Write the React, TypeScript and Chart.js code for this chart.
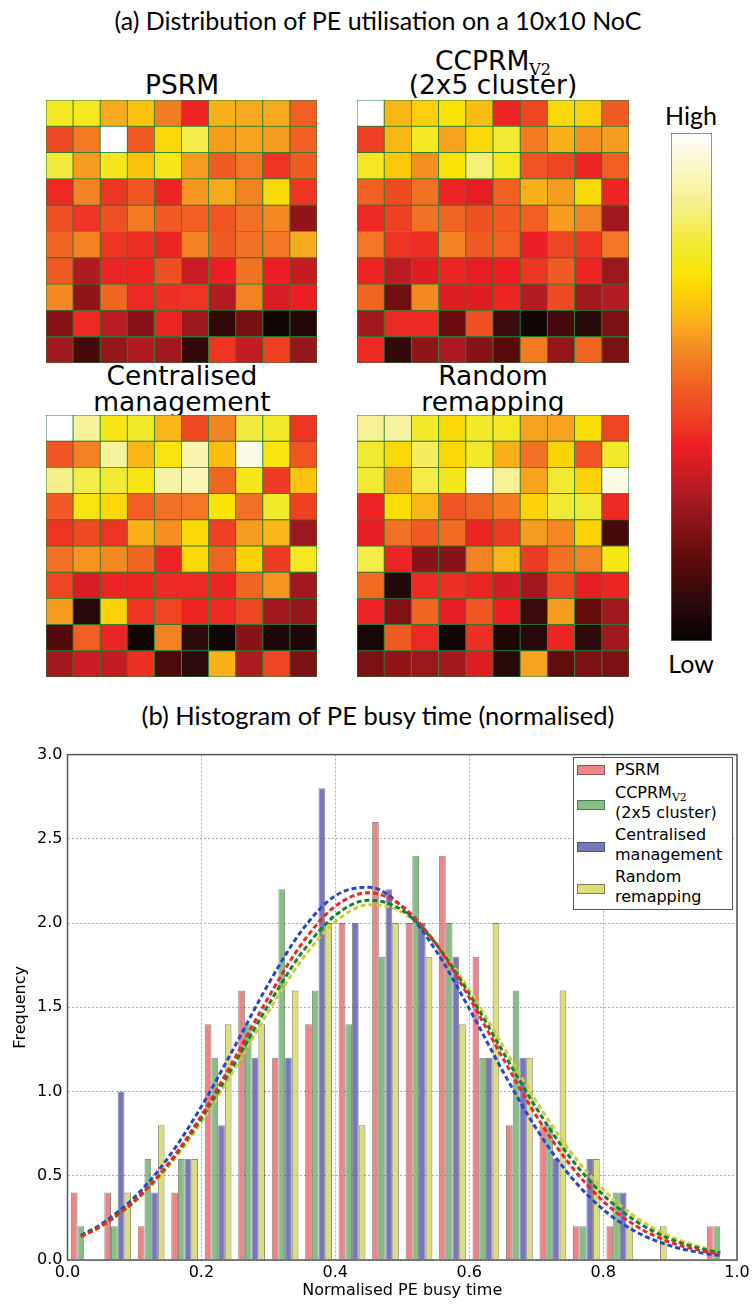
import React, { useEffect, useRef } from "react";
import { Chart, registerables } from "chart.js";

Chart.register(...registerables);

// ---------- DATA ----------
const COLUMN_LABELS = ["1", "2", "3", "4", "5", "6", "7", "8", "9", "10"];

// PE utilisation (0 = low, 1 = high), rows top -> bottom
const PSRM_GRID = [
  [0.76, 0.76, 0.62, 0.66, 0.55, 0.39, 0.63, 0.62, 0.62, 0.5],
  [0.46, 0.55, 1.0, 0.49, 0.7, 0.8, 0.6, 0.61, 0.6, 0.5],
  [0.79, 0.6, 0.75, 0.66, 0.75, 0.6, 0.49, 0.54, 0.42, 0.49],
  [0.4, 0.56, 0.42, 0.48, 0.39, 0.59, 0.62, 0.56, 0.7, 0.42],
  [0.47, 0.42, 0.47, 0.55, 0.49, 0.5, 0.48, 0.53, 0.57, 0.24],
  [0.51, 0.56, 0.42, 0.41, 0.39, 0.56, 0.49, 0.53, 0.54, 0.62],
  [0.49, 0.29, 0.39, 0.39, 0.47, 0.33, 0.38, 0.53, 0.38, 0.32],
  [0.57, 0.24, 0.51, 0.4, 0.41, 0.42, 0.3, 0.56, 0.35, 0.38],
  [0.23, 0.4, 0.31, 0.23, 0.39, 0.26, 0.09, 0.2, 0.02, 0.06],
  [0.27, 0.12, 0.25, 0.29, 0.27, 0.09, 0.42, 0.32, 0.44, 0.25],
];

const CCPRM_GRID = [
  [1.0, 0.64, 0.68, 0.72, 0.65, 0.39, 0.45, 0.7, 0.68, 0.49],
  [0.44, 0.64, 0.76, 0.61, 0.7, 0.78, 0.55, 0.63, 0.58, 0.6],
  [0.76, 0.67, 0.58, 0.72, 0.84, 0.76, 0.48, 0.45, 0.39, 0.5],
  [0.5, 0.46, 0.53, 0.39, 0.37, 0.5, 0.63, 0.6, 0.7, 0.39],
  [0.4, 0.44, 0.53, 0.51, 0.47, 0.49, 0.5, 0.6, 0.56, 0.27],
  [0.54, 0.42, 0.41, 0.56, 0.49, 0.5, 0.38, 0.45, 0.42, 0.54],
  [0.39, 0.31, 0.36, 0.39, 0.37, 0.38, 0.42, 0.49, 0.39, 0.26],
  [0.51, 0.19, 0.57, 0.36, 0.36, 0.39, 0.3, 0.46, 0.27, 0.3],
  [0.27, 0.4, 0.4, 0.18, 0.47, 0.1, 0.02, 0.12, 0.07, 0.21],
  [0.4, 0.09, 0.24, 0.28, 0.23, 0.15, 0.55, 0.25, 0.51, 0.21],
];

const CENTRAL_GRID = [
  [1.0, 0.88, 0.74, 0.77, 0.64, 0.46, 0.56, 0.79, 0.77, 0.42],
  [0.48, 0.56, 0.88, 0.64, 0.73, 0.9, 0.65, 0.97, 0.73, 0.48],
  [0.86, 0.8, 0.78, 0.74, 0.89, 0.91, 0.51, 0.75, 0.43, 0.66],
  [0.49, 0.73, 0.7, 0.5, 0.53, 0.54, 0.72, 0.53, 0.77, 0.44],
  [0.42, 0.46, 0.42, 0.63, 0.58, 0.7, 0.44, 0.6, 0.64, 0.26],
  [0.53, 0.59, 0.57, 0.51, 0.39, 0.7, 0.51, 0.69, 0.43, 0.76],
  [0.45, 0.35, 0.39, 0.39, 0.4, 0.4, 0.39, 0.51, 0.59, 0.27],
  [0.6, 0.07, 0.69, 0.42, 0.45, 0.39, 0.4, 0.45, 0.27, 0.25],
  [0.14, 0.5, 0.39, 0.02, 0.56, 0.08, 0.02, 0.23, 0.05, 0.05],
  [0.27, 0.33, 0.32, 0.41, 0.13, 0.08, 0.63, 0.29, 0.45, 0.21],
];

const RANDOM_GRID = [
  [0.87, 0.89, 0.77, 0.7, 0.77, 0.76, 0.61, 0.61, 0.71, 0.45],
  [0.78, 0.7, 0.82, 0.7, 0.77, 0.63, 0.53, 0.69, 0.48, 0.77],
  [0.78, 0.61, 0.8, 0.75, 1.0, 0.87, 0.61, 0.78, 0.69, 0.97],
  [0.39, 0.71, 0.64, 0.48, 0.51, 0.55, 0.69, 0.78, 0.78, 0.4],
  [0.37, 0.53, 0.49, 0.52, 0.39, 0.43, 0.6, 0.57, 0.69, 0.12],
  [0.8, 0.39, 0.23, 0.23, 0.56, 0.64, 0.43, 0.53, 0.56, 0.74],
  [0.52, 0.06, 0.4, 0.41, 0.39, 0.34, 0.27, 0.45, 0.37, 0.39],
  [0.39, 0.22, 0.51, 0.37, 0.48, 0.38, 0.1, 0.6, 0.17, 0.27],
  [0.03, 0.49, 0.4, 0.02, 0.41, 0.05, 0.07, 0.39, 0.08, 0.27],
  [0.21, 0.24, 0.26, 0.27, 0.36, 0.07, 0.61, 0.16, 0.21, 0.21],
];

// Histogram (density), 20 bins of width 0.05
const BIN_CENTERS = [
  0.025, 0.075, 0.125, 0.175, 0.225, 0.275, 0.325, 0.375, 0.425, 0.475,
  0.525, 0.575, 0.625, 0.675, 0.725, 0.775, 0.825, 0.875, 0.925, 0.975,
];
const PSRM_FREQ = [0.4, 0.4, 0.2, 0.4, 1.4, 1.6, 1.2, 1.4, 2.0, 2.6, 2.0, 2.4, 1.8, 0.8, 0.8, 0.2, 0.2, 0, 0, 0.2];
const CCPRM_FREQ = [0.2, 0.2, 0.6, 0.6, 1.2, 1.4, 2.2, 1.6, 1.4, 1.8, 2.4, 2.0, 1.2, 1.6, 0.8, 0.2, 0.4, 0, 0, 0.2];
const CENTRAL_FREQ = [0, 1.0, 0.4, 0.6, 0.8, 1.2, 1.2, 2.8, 2.0, 2.2, 2.0, 1.8, 1.2, 1.2, 0.6, 0.6, 0.4, 0, 0, 0];
const RANDOM_FREQ = [0, 0.4, 0.8, 0.6, 1.4, 1.4, 1.6, 2.0, 0.8, 2.0, 1.8, 1.4, 2.0, 1.2, 1.6, 0.6, 0.2, 0.2, 0, 0];

// Fitted normal curves
const FIT_X = [
  0.02, 0.05, 0.1, 0.15, 0.2, 0.25, 0.3, 0.35, 0.4, 0.45, 0.5,
  0.55, 0.6, 0.65, 0.7, 0.75, 0.8, 0.85, 0.9, 0.95, 0.975,
];
const PSRM_FIT = [0.138, 0.2, 0.35, 0.569, 0.857, 1.2, 1.558, 1.878, 2.1, 2.18, 2.1, 1.878, 1.558, 1.2, 0.857, 0.569, 0.35, 0.2, 0.106, 0.052, 0.036];
const CCPRM_FIT = [0.142, 0.203, 0.35, 0.563, 0.841, 1.169, 1.514, 1.824, 2.046, 2.136, 2.076, 1.878, 1.581, 1.238, 0.903, 0.613, 0.387, 0.228, 0.125, 0.064, 0.044];
const CENTRAL_FIT = [0.146, 0.212, 0.372, 0.605, 0.911, 1.27, 1.638, 1.956, 2.162, 2.213, 2.096, 1.839, 1.493, 1.122, 0.781, 0.503, 0.3, 0.166, 0.085, 0.04, 0.027];
const RANDOM_FIT = [0.14, 0.201, 0.344, 0.55, 0.82, 1.139, 1.475, 1.782, 2.007, 2.108, 2.064, 1.885, 1.604, 1.274, 0.943, 0.65, 0.419, 0.251, 0.14, 0.073, 0.052];

const X_TICK_STEP = 0.2;
const Y_TICK_STEP = 0.5;

// ---------- STYLE ----------
const CMAP_POS = [0.0, 0.08, 0.15, 0.22, 0.3, 0.38, 0.45, 0.5, 0.56, 0.62, 0.67, 0.72, 0.78, 0.86, 1.0];
const CMAP_RGB = [
  [8, 3, 3], [45, 10, 12], [90, 10, 12], [130, 18, 22], [180, 28, 35],
  [237, 30, 36], [238, 70, 35], [241, 95, 35], [243, 130, 35], [248, 170, 30],
  [253, 200, 12], [250, 228, 5], [242, 234, 50], [245, 240, 140], [255, 255, 255],
];

function heatColor(v: number): string {
  const t = Math.max(0, Math.min(1, v));
  for (let i = 0; i < CMAP_POS.length - 1; i++) {
    if (t <= CMAP_POS[i + 1]) {
      const f = (t - CMAP_POS[i]) / (CMAP_POS[i + 1] - CMAP_POS[i]);
      const a = CMAP_RGB[i], b = CMAP_RGB[i + 1];
      const c = a.map((x, k) => Math.round(x + (b[k] - x) * f));
      return `rgb(${c[0]},${c[1]},${c[2]})`;
    }
  }
  return "rgb(255,255,255)";
}

const GRID_LINE = "rgb(40,125,50)";
const SANS = "'DejaVu Sans', sans-serif";
const HUMANIST = "Lato, 'Open Sans', sans-serif";

const RED = "rgba(235,110,110,0.85)";
const GREEN = "rgba(110,180,110,0.85)";
const BLUE = "rgba(100,100,180,0.88)";
const YELLOW = "rgba(215,215,100,0.85)";

// ---------- COMPONENTS ----------
function Heatmap({ grid, left, top, width, height }: any) {
  const ref = useRef<HTMLCanvasElement>(null);
  useEffect(() => {
    const rows = grid.slice().reverse();
    const chart = new Chart(ref.current!, {
      type: "bar",
      data: {
        labels: COLUMN_LABELS,
        datasets: rows.map((row: number[]) => ({
          data: row.map(() => 1),
          backgroundColor: row.map(heatColor),
          borderColor: GRID_LINE,
          borderWidth: 0.8,
          borderSkipped: false,
          barPercentage: 1,
          categoryPercentage: 1,
        })),
      },
      options: {
        responsive: false,
        animation: false,
        layout: { padding: 0 },
        plugins: { legend: { display: false }, tooltip: { enabled: false } },
        scales: {
          x: { stacked: true, display: false },
          y: { stacked: true, display: false, min: 0, max: 10 },
        },
      },
    } as any);
    return () => chart.destroy();
  }, [grid]);
  return (
    <canvas
      ref={ref}
      width={width}
      height={height}
      style={{ position: "absolute", left, top, width, height, display: "block" }}
    />
  );
}

function ColorBar({ left, top, width, height }: any) {
  const ref = useRef<HTMLCanvasElement>(null);
  useEffect(() => {
    const chart = new Chart(ref.current!, {
      type: "bar",
      data: {
        labels: ["scale"],
        datasets: [
          {
            data: [1],
            backgroundColor: (ctx: any) => {
              const { chart: ch } = ctx;
              const area = ch.chartArea;
              if (!area) return "#fff";
              const g = ch.ctx.createLinearGradient(0, area.bottom, 0, area.top);
              CMAP_POS.forEach((p, i) => {
                const c = CMAP_RGB[i];
                g.addColorStop(p, `rgb(${c[0]},${c[1]},${c[2]})`);
              });
              return g;
            },
            borderColor: "#666",
            borderWidth: 1,
            borderSkipped: false,
            barPercentage: 1,
            categoryPercentage: 1,
          },
        ],
      },
      options: {
        responsive: false,
        animation: false,
        layout: { padding: 0 },
        plugins: { legend: { display: false }, tooltip: { enabled: false } },
        scales: {
          x: { display: false },
          y: { display: false, min: 0, max: 1 },
        },
      },
    } as any);
    return () => chart.destroy();
  }, []);
  return (
    <canvas
      ref={ref}
      width={width}
      height={height}
      style={{ position: "absolute", left, top, width, height, display: "block" }}
    />
  );
}

const framePlugin = {
  id: "frame",
  afterDraw(chart: any) {
    const { ctx, chartArea } = chart;
    ctx.save();
    ctx.strokeStyle = "#555";
    ctx.lineWidth = 1.5;
    ctx.strokeRect(chartArea.left, chartArea.top, chartArea.right - chartArea.left, chartArea.bottom - chartArea.top);
    ctx.restore();
  },
};

function Histogram({ left, top, width, height }: any) {
  const ref = useRef<HTMLCanvasElement>(null);
  useEffect(() => {
    const bar = (label: string, freq: number[], color: string) => ({
      type: "bar",
      label,
      data: BIN_CENTERS.map((x, i) => ({ x, y: freq[i] })),
      backgroundColor: color,
      borderColor: "rgba(60,60,60,0.6)",
      borderWidth: 1,
      barPercentage: 1,
      categoryPercentage: 0.8,
      order: 2,
    });
    const line = (label: string, ys: number[], color: string) => ({
      type: "line",
      label,
      data: FIT_X.map((x, i) => ({ x, y: ys[i] })),
      borderColor: color,
      borderWidth: 3,
      borderDash: [5, 3],
      pointRadius: 0,
      fill: false,
      cubicInterpolationMode: "monotone",
      order: 1,
    });
    const chart = new Chart(ref.current!, {
      type: "bar",
      data: {
        datasets: [
          bar("PSRM", PSRM_FREQ, RED),
          bar("CCPRM V2 (2x5 cluster)", CCPRM_FREQ, GREEN),
          bar("Centralised management", CENTRAL_FREQ, BLUE),
          bar("Random remapping", RANDOM_FREQ, YELLOW),
          line("PSRM fit", PSRM_FIT, "rgb(235,40,40)"),
          line("CCPRM fit", CCPRM_FIT, "rgb(20,130,40)"),
          line("Centralised fit", CENTRAL_FIT, "rgb(40,70,200)"),
          line("Random fit", RANDOM_FIT, "rgb(205,205,50)"),
        ],
      },
      options: {
        responsive: false,
        animation: false,
        layout: { padding: { left: 0, right: 17, top: 11, bottom: 0 } },
        plugins: { legend: { display: false }, tooltip: { enabled: false } },
        scales: {
          x: {
            type: "linear",
            min: 0,
            max: 1,
            offset: false,
            afterFit: (s: any) => { s.height = 44; },
            ticks: {
              stepSize: X_TICK_STEP,
              color: "#000",
              font: { family: SANS, size: 16 },
              padding: 3,
              callback: (v: any) => Number(v).toFixed(1),
            },
            grid: { color: "#aaa", lineWidth: 1, drawTicks: false, offset: false },
            border: { display: false, dash: [2, 2] },
            title: {
              display: true,
              text: "Normalised PE busy time",
              color: "#000",
              font: { family: SANS, size: 16 },
              padding: { top: 0, bottom: 4 },
            },
          },
          y: {
            min: 0,
            max: 3,
            afterFit: (s: any) => { s.width = 67.5; },
            ticks: {
              stepSize: Y_TICK_STEP,
              color: "#000",
              font: { family: SANS, size: 16 },
              padding: 5,
              callback: (v: any) => Number(v).toFixed(1),
            },
            grid: { color: "#aaa", lineWidth: 1, drawTicks: false },
            border: { display: false, dash: [2, 2] },
            title: {
              display: true,
              text: "Frequency",
              color: "#000",
              font: { family: SANS, size: 16 },
              padding: { top: 11, bottom: 0 },
            },
          },
        },
      },
      plugins: [framePlugin],
    } as any);
    return () => chart.destroy();
  }, []);
  return (
    <canvas
      ref={ref}
      width={width}
      height={height}
      style={{ position: "absolute", left, top, width, height, display: "block" }}
    />
  );
}

function Text({ x, y, children, size, family, w = 400, weight = 400 }: any) {
  const lh = Math.round(size * 1.3);
  return (
    <div
      style={{
        position: "absolute",
        left: x - w / 2,
        top: y - lh / 2,
        width: w,
        height: lh,
        lineHeight: `${lh}px`,
        textAlign: "center",
        fontFamily: family,
        fontSize: size,
        fontWeight: weight,
        color: "#000",
        whiteSpace: "nowrap",
      }}
    >
      {children}
    </div>
  );
}

function Legend() {
  const items = [
    { color: RED, lines: [<>PSRM</>], py: 770 },
    { color: GREEN, lines: [<>CCPRM<sub style={{ fontFamily: "'DejaVu Serif', serif", fontSize: 11, verticalAlign: -3 }}>V2</sub></>, <>(2x5 cluster)</>], py: 805 },
    { color: BLUE, lines: [<>Centralised</>, <>management</>], py: 847 },
    { color: YELLOW, lines: [<>Random</>, <>remapping</>], py: 889 },
  ];
  const textY = [[770], [793, 813], [835, 855], [877, 897]];
  return (
    <div style={{ position: "absolute", left: 0, top: 0 }}>
      <div
        style={{
          position: "absolute",
          left: 573,
          top: 757,
          width: 160,
          height: 153,
          boxSizing: "border-box",
          border: "1.5px solid #555",
          background: "#fff",
        }}
      />
      {items.map((it, i) => (
        <React.Fragment key={i}>
          <div
            style={{
              position: "absolute",
              left: 577,
              top: it.py - 5,
              width: 28,
              height: 10,
              boxSizing: "border-box",
              background: it.color,
              border: "1px solid rgba(60,60,60,0.6)",
            }}
          />
          {it.lines.map((ln, j) => (
            <div
              key={j}
              style={{
                position: "absolute",
                left: 615,
                top: textY[i][j] - 10,
                height: 20,
                lineHeight: "20px",
                fontFamily: SANS,
                fontSize: 16,
                color: "#000",
                whiteSpace: "nowrap",
              }}
            >
              {ln}
            </div>
          ))}
        </React.Fragment>
      ))}
    </div>
  );
}

export default function App() {
  const sub = (
    <sub style={{ fontFamily: "'DejaVu Serif', serif", fontSize: 16, verticalAlign: -5 }}>V2</sub>
  );
  const TS = 26.5;
  return (
    <div style={{ position: "absolute", left: 0, top: 0, width: 754, height: 1304, background: "#fff", overflow: "hidden" }}>
      <Text x={378} y={20} size={25} family={HUMANIST} w={700}>
        (a) Distribution of PE utilisation on a 10x10 NoC
      </Text>

      <Text x={182} y={85} size={TS} family={SANS}>PSRM</Text>
      <Text x={493} y={61} size={TS} family={SANS}>CCPRM{sub}</Text>
      <Text x={493} y={85} size={TS} family={SANS}>(2x5 cluster)</Text>
      <Text x={182} y={376} size={TS} family={SANS}>Centralised</Text>
      <Text x={182} y={402} size={TS} family={SANS}>management</Text>
      <Text x={493} y={376} size={TS} family={SANS}>Random</Text>
      <Text x={493} y={402} size={TS} family={SANS}>remapping</Text>

      <Heatmap grid={PSRM_GRID} left={46} top={100} width={271} height={263} />
      <Heatmap grid={CCPRM_GRID} left={357} top={100} width={272} height={263} />
      <Heatmap grid={CENTRAL_GRID} left={46} top={415} width={271} height={262} />
      <Heatmap grid={RANDOM_GRID} left={357} top={415} width={272} height={262} />

      <Text x={691} y={115} size={25} family={HUMANIST} w={120}>High</Text>
      <ColorBar left={671} top={133} width={41} height={508} />
      <Text x={691} y={663} size={25} family={HUMANIST} w={120}>Low</Text>

      <Text x={378} y={715} size={25.5} family={HUMANIST} w={700}>
        (b) Histogram of PE busy time (normalised)
      </Text>

      <Histogram left={0} top={740} width={754} height={564} />
      <Legend />
    </div>
  );
}
